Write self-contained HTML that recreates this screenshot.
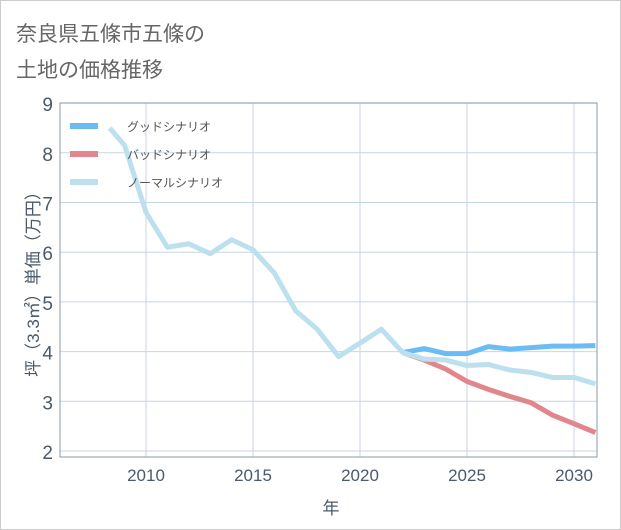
<!DOCTYPE html>
<html><head><meta charset="utf-8"><style>
html,body{margin:0;padding:0;background:#fff;}
svg{display:block;font-family:"Liberation Sans","Noto Sans CJK JP",sans-serif;}
</style></head><body>
<svg id="c" width="621" height="530" xmlns="http://www.w3.org/2000/svg">
<rect x="0.5" y="0.5" width="620" height="529" fill="#fff" stroke="#ccc"/>
<text x="16" y="41" font-size="21" fill="#666">奈良県五條市五條の</text>
<text x="16" y="77" font-size="21" fill="#666">土地の価格推移</text>
<g id="grid"></g>
<g id="lines" fill="none" stroke-linejoin="round" stroke-width="5"></g>
<rect x="60" y="103" width="537" height="354" fill="none" stroke="#8a9aa8" stroke-width="1"/>
<g font-size="12" fill="#555">
<line x1="70" y1="126" x2="98" y2="126" stroke="#6bbcf2" stroke-width="6"/>
<text x="127" y="131">グッドシナリオ</text>
<line x1="70" y1="154" x2="98" y2="154" stroke="#e0868c" stroke-width="6"/>
<text x="127" y="159">バッドシナリオ</text>
<line x1="70" y1="182" x2="98" y2="182" stroke="#bde0ee" stroke-width="6"/>
<text x="127" y="187">ノーマルシナリオ</text>
</g>
<text transform="translate(39,280) rotate(-90)" text-anchor="middle" font-size="17" fill="#4a5a6a">坪（3.3㎡）単価（万円）</text>
<text x="331" y="514" text-anchor="middle" font-size="17" fill="#4a5a6a">年</text>
</svg>
<script>
const X=y=>146+(y-2010)*21.4, Y=v=>451-(v-2)*49.7;
const g=document.getElementById('grid'),L=document.getElementById('lines');
let s='';
for(let v=2;v<=9;v++){const y=Y(v);s+=`<line x1="60" x2="597" y1="${y}" y2="${y}" stroke="#c8d6e2"/><text x="53" y="${y+8}" text-anchor="end" font-size="19" fill="#4a5a6a">${v}</text>`;}
for(let yr=2010;yr<=2030;yr+=5){const x=X(yr);s+=`<line x1="${x}" x2="${x}" y1="103" y2="457" stroke="#c8d6e2"/><text x="${x}" y="481" text-anchor="middle" font-size="17" fill="#4a5a6a">${yr}</text>`;}
g.innerHTML=s;
const n=[[2008.3,8.5],[2009,8.15],[2010,6.8],[2011,6.1],[2012,6.17],[2013,5.97],[2014,6.25],[2015,6.05],[2016,5.58],[2017,4.82],[2018,4.45],[2019,3.9],[2020,4.17],[2021,4.45],[2022,3.98],[2023,3.85],[2024,3.83],[2025,3.72],[2026,3.74],[2027,3.63],[2028,3.58],[2029,3.48],[2030,3.48],[2031,3.35]];
const gd=[[2022,3.98],[2023,4.06],[2024,3.96],[2025,3.96],[2026,4.1],[2027,4.05],[2028,4.08],[2029,4.11],[2030,4.11],[2031,4.12]];
const bd=[[2022,3.98],[2023,3.83],[2024,3.65],[2025,3.4],[2026,3.24],[2027,3.1],[2028,2.97],[2029,2.72],[2030,2.55],[2031,2.37]];
const p=(d,c)=>`<polyline stroke="${c}" points="${d.map(a=>X(a[0])+','+Y(a[1])).join(' ')}"/>`;
L.innerHTML=`<clipPath id="cp"><rect x="60" y="103" width="537" height="354"/></clipPath><g clip-path="url(#cp)">`+p(bd,'#e0868c')+p(gd,'#6bbcf2')+p(n,'#bde0ee')+`</g>`;
</script>
</body></html>
